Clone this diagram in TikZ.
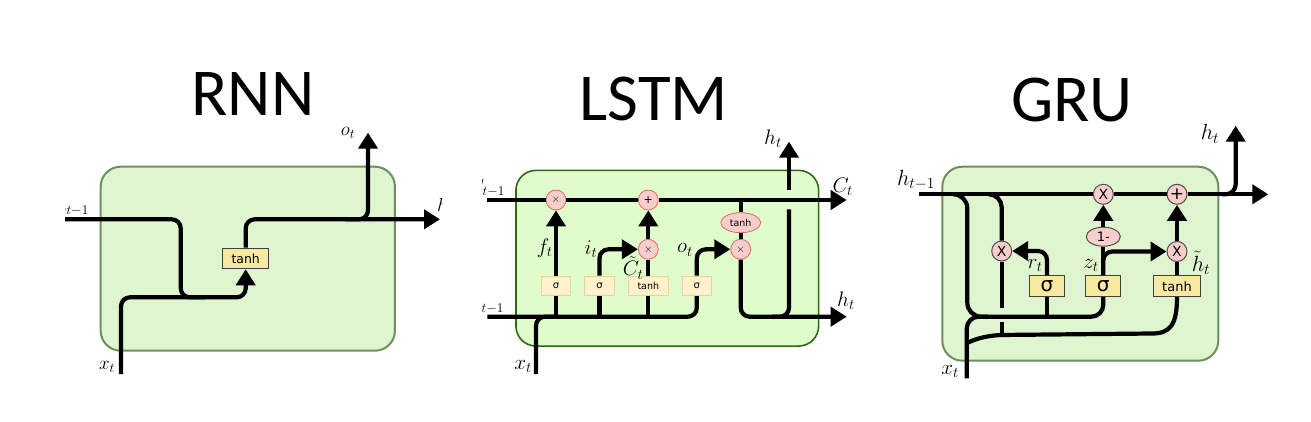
\documentclass[tikz,border=0pt]{standalone}
\usepackage{fix-cm}
\usepackage{amsmath}
\usepackage{fontspec}
\usetikzlibrary{arrows.meta,shapes.geometric}
\newfontfamily\titlefont{Carlito}
\newfontfamily\gatefont{DejaVu Sans}

\definecolor{rnngreen}{HTML}{DFF5CF}
\definecolor{rnnedge}{HTML}{6D8F5F}
\definecolor{lstmgreen}{HTML}{E1FCCB}
\definecolor{lstmedge}{HTML}{2D6A10}
\definecolor{gateyellow}{HTML}{F8E9A1}
\definecolor{paleyellow}{HTML}{FFF2CC}
\definecolor{paleedge}{HTML}{EBD28F}
\definecolor{gatepink}{HTML}{F8CECC}
\definecolor{pinkedge}{HTML}{DB6A66}

\tikzset{
  flow/.style={line width=4.2pt,line cap=butt},
  arrowflow/.style={flow,-{Triangle[width=19pt,length=16pt]}},
  softturn/.style={rounded corners=9pt},
  headline/.style={font=\titlefont\fontsize{67}{67}\selectfont,inner sep=0pt},
  cell/.style={draw=rnnedge,fill=rnngreen,line width=2pt,rounded corners=20pt,inner sep=0pt},
  lstmcell/.style={cell,draw=lstmedge,fill=lstmgreen,line width=1.6pt},
  darkbox/.style={draw=black!75,fill=gateyellow,line width=1pt,inner sep=0pt,minimum height=20.7pt,font=\gatefont\fontsize{12.5}{13}\selectfont},
  palebox/.style={draw=paleedge,fill=paleyellow,line width=.8pt,inner sep=0pt,minimum height=19.7pt,font=\gatefont\fontsize{10}{11}\selectfont},
  palecirc/.style={circle,draw=pinkedge,fill=gatepink,line width=.8pt,inner sep=0pt,minimum size=20pt,font=\gatefont\fontsize{11}{12}\selectfont},
  darkcirc/.style={circle,draw=black!70,fill=gatepink,line width=1pt,inner sep=0pt,minimum size=20pt,font=\gatefont\fontsize{14}{15}\selectfont},
  smalltag/.style={inner sep=0pt,font=\fontsize{19}{20}\selectfont},
  midtag/.style={inner sep=0pt,font=\fontsize{21}{22}\selectfont},
  bigtag/.style={inner sep=0pt,font=\fontsize{22}{23}\selectfont}
}

\begin{document}
\begin{tikzpicture}[x=1pt,y=-1pt]
  \useasboundingbox (0,0) rectangle (1311,422);

  % Titles
  \node[headline] (rnntitle) at (253,94) {RNN};
  \node[headline] (lstmtitle) at (654,99) {LSTM};
  \node[headline] (grutitle) at (1072,100) {GRU};

  % RNN
  \node[cell,minimum width=294.3pt,minimum height=184pt] (rnncell) at (247.8,258.7) {};
  \node[darkbox,minimum width=46pt] (rnntanh) at (245.7,258.4) {tanh};
  \coordinate (rnnin) at (65,219.3);
  \coordinate (rnnout) at (440,219.3);
  \coordinate (rnnx) at (121,374);
  \coordinate (rnntop) at (368,132.7);
  \coordinate (rnnturn) at (180.7,297.3);
  \coordinate (rnnjoin) at (205,297.3);
  \coordinate (rnnfork) at (345,219.3);
  \draw[flow,softturn] (rnnin) -| (rnnturn) -- (rnnjoin);
  \draw[arrowflow,softturn] (rnnx) |- (rnntanh.south |- rnnturn) -- (rnntanh.south);
  \draw[arrowflow,softturn] (rnntanh.north) |- (rnnout);
  \draw[arrowflow,softturn] (rnnfork) -| (rnntop);
  \begin{scope}
    \clip (65,120) rectangle (442,380);
    \node[smalltag,anchor=east] (rnnhin) at (89,207) {$h_{t-1}$};
    \node[smalltag,anchor=west] (rnnhout) at (437,206) {$h_t$};
  \end{scope}
  \node[smalltag] (rnnot) at (348,133) {$o_t$};
  \node[smalltag] (rnnxt) at (107,367) {$x_t$};

  % LSTM
  \node[lstmcell,minimum width=302.7pt,minimum height=175.7pt] (lstmcell) at (667.3,258.2) {};
  \node[palecirc] (lstmforget) at (556,200) {$\times$};
  \node[palecirc] (lstmadd) at (648.3,200) {+};
  \node[palecirc] (lstmmulA) at (648.3,249.3) {$\times$};
  \node[palecirc] (lstmmulB) at (740.7,249.3) {$\times$};
  \node[ellipse,draw=pinkedge,fill=gatepink,line width=.8pt,inner sep=0pt,minimum width=40pt,minimum height=20pt,font=\gatefont\fontsize{9.5}{10}\selectfont] (lstmtanh) at (740.7,222.7) {tanh};
  \node[palebox,minimum width=29.4pt] (lstmsigF) at (556,285.8) {σ};
  \node[palebox,minimum width=29.4pt] (lstmsigI) at (599.5,285.8) {σ};
  \node[palebox,minimum width=39.3pt,font=\gatefont\fontsize{9.5}{10}\selectfont] (lstmsigC) at (648.3,285.8) {tanh};
  \node[palebox,minimum width=29.4pt] (lstmsigO) at (696.8,285.8) {σ};
  \coordinate (lstmin) at (487.3,200);
  \coordinate (lstmout) at (846.7,200);
  \coordinate (lstmbot) at (487.3,316.7);
  \coordinate (lstmhout) at (846.7,316.7);
  \coordinate (lstmx) at (536,374);
  \coordinate (lstmxend) at (556,316.7);
  \coordinate (lstmgapA) at (789,209.3);
  \coordinate (lstmgapB) at (789,190);
  \coordinate (lstmhtop) at (789,141.7);
  \coordinate (lstmmerge) at (772,316.7);
  \draw[flow] (lstmin) -- (lstmforget);
  \draw[flow] (lstmforget) -- (lstmadd);
  \draw[arrowflow] (lstmadd) -- (lstmout);
  \draw[flow] (lstmtanh) -- (lstmtanh |- lstmin);
  \draw[flow] (lstmmulB) -- (lstmtanh);
  \draw[arrowflow,softturn] (lstmmulB) |- (lstmhout);
  \draw[flow,softturn] (lstmgapA) |- (lstmmerge);
  \draw[arrowflow] (lstmgapB) -- (lstmhtop);
  \draw[flow,softturn] (lstmbot) -| (lstmsigO);
  \draw[flow,softturn] (lstmx) |- (lstmxend);
  \draw[arrowflow] (lstmsigF) -- (lstmforget);
  \draw[flow] (lstmsigF) -- (lstmsigF |- lstmbot);
  \draw[flow] (lstmsigI) -- (lstmsigI |- lstmbot);
  \draw[arrowflow,softturn] (lstmsigI) |- (lstmmulA);
  \draw[flow] (lstmsigC) -- (lstmsigC |- lstmbot);
  \draw[flow] (lstmsigC) -- (lstmmulA);
  \draw[arrowflow] (lstmmulA) -- (lstmadd);
  \draw[arrowflow,softturn] (lstmsigO) |- (lstmmulB);
  \begin{scope}
    \clip (482.5,120) rectangle (870,380);
    \node[smalltag,anchor=east] (lstmcin) at (505,188) {$C_{t-1}$};
    \node[smalltag,anchor=east] (lstmhin) at (504,305) {$h_{t-1}$};
  \end{scope}
  \node[midtag] (lstmhup) at (773,139) {$h_t$};
  \node[midtag] (lstmct) at (842.7,187) {$C_t$};
  \node[midtag] (lstmft) at (544.7,248) {$f_t$};
  \node[midtag] (lstmit) at (591,249) {$i_t$};
  \node[midtag] (lstmot) at (685,250) {$o_t$};
  \node[midtag] (lstmctilde) at (633,268) {$\tilde{C}_t$};
  \node[midtag] (lstmht) at (846,301) {$h_t$};
  \node[midtag] (lstmxt) at (523,366.7) {$x_t$};

  % GRU
  \node[cell,minimum width=276pt,minimum height=194pt] (grucell) at (1080.3,263.7) {};
  \node[darkcirc] (gruover) at (1103.3,194.3) {X};
  \node[darkcirc,font=\gatefont\fontsize{17}{18}\selectfont] (gruadd) at (1177,194.3) {+};
  \node[darkcirc] (grumulR) at (1001.7,251) {X};
  \node[darkcirc] (grumulT) at (1177,251.5) {X};
  \node[ellipse,draw=black!70,fill=gatepink,line width=1pt,inner sep=0pt,minimum width=34pt,minimum height=19pt,font=\gatefont\fontsize{13}{14}\selectfont] (gruone) at (1103.3,236.7) {1-};
  \node[darkbox,minimum width=35pt,font=\gatefont\fontsize{20}{21}\selectfont] (grusigR) at (1047,286.2) {σ};
  \node[darkbox,minimum width=35pt,font=\gatefont\fontsize{20}{21}\selectfont] (grusigZ) at (1103.3,286.2) {σ};
  \node[darkbox,minimum width=47.7pt,font=\gatefont\fontsize{13}{14}\selectfont] (grutanh) at (1177,286.2) {tanh};
  \coordinate (gruin) at (919.3,194.3);
  \coordinate (gruout) at (1268.3,194.3);
  \coordinate (grux) at (966.7,378.3);
  \coordinate (gruA) at (953,194.3);
  \coordinate (gruK) at (967.3,316.7);
  \coordinate (gruKend) at (988,316.7);
  \coordinate (gruB) at (988.3,194.3);
  \coordinate (grugapA) at (1001.7,308.3);
  \coordinate (grugapB) at (1001.7,321.7);
  \coordinate (grugapC) at (1001.7,335);
  \coordinate (grujoin) at (1047,316.7);
  \coordinate (gruE) at (966.7,343.3);
  \coordinate (gruF) at (1000,335);
  \coordinate (gruG) at (1152,333.5);
  \coordinate (gruU) at (1222,194.3);
  \coordinate (grutop) at (1235.7,125.7);
  \draw[flow] (gruin) -- (gruover);
  \draw[flow] (gruover) -- (gruadd);
  \draw[arrowflow] (gruadd) -- (gruout);
  \draw[arrowflow,rounded corners=10pt] (gruU) -| (grutop);
  \draw[flow,rounded corners=14pt] (gruA) -| (gruK) -- (gruKend);
  \draw[flow,rounded corners=13pt] (gruB) -| (grumulR);
  \draw[flow] (grumulR) -- (grugapA);
  \draw[flow] (grugapB) -- (grugapC);
  \draw[flow,rounded corners=12pt] (grux) |- (grujoin) -| (grusigZ);
  \draw[flow] (grusigR) -- (grujoin);
  \draw[arrowflow,softturn] (grusigR) |- (grumulR);
  \draw[flow] (grusigZ) -- (gruone);
  \draw[arrowflow] (gruone) -- (gruover);
  \draw[arrowflow,softturn] (grusigZ) |- (grumulT);
  \draw[flow] (gruE) .. controls (975,339) and (985,336) .. (gruF) -- (gruG) .. controls (1170,333.5) and (1177,325) .. (grutanh.south);
  \draw[flow] (grutanh) -- (grumulT);
  \draw[arrowflow] (grumulT) -- (gruadd);
  \node[bigtag] (gruhin) at (916,180) {$h_{t-1}$};
  \node[bigtag] (gruhup) at (1210,134) {$h_t$};
  \node[midtag] (grurt) at (1035,265.7) {$r_t$};
  \node[midtag] (gruzt) at (1091,265.7) {$z_t$};
  \node[bigtag] (gruhtilde) at (1201,263) {$\tilde{h}_t$};
  \node[midtag] (gruxt) at (950,371.7) {$x_t$};
\end{tikzpicture}
\end{document}
